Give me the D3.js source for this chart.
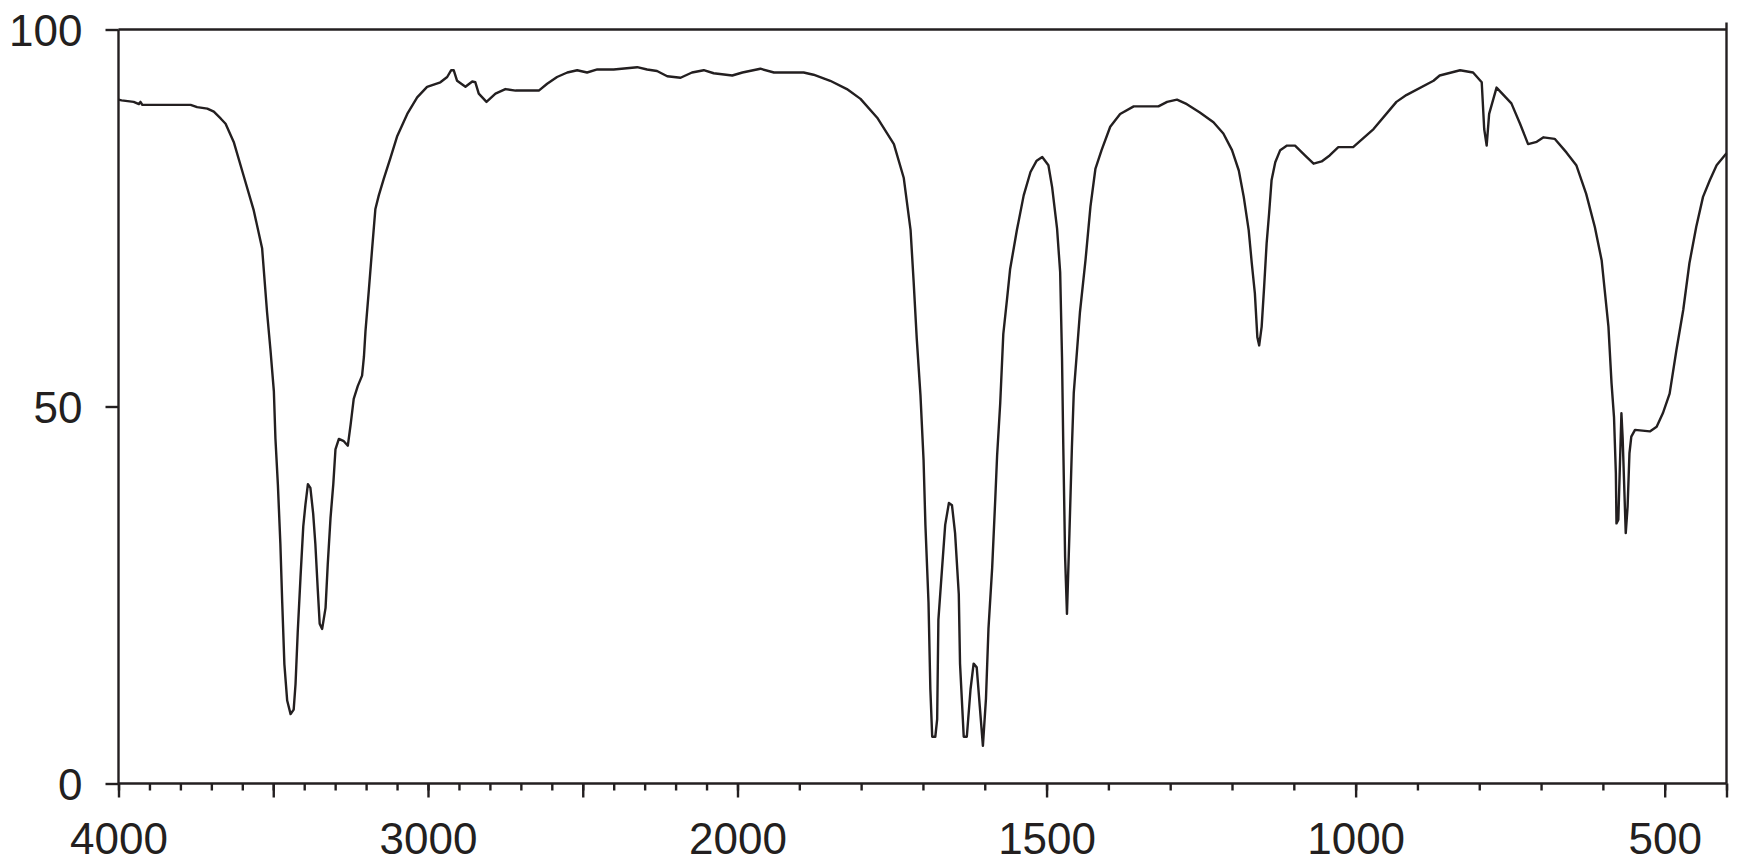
<!DOCTYPE html>
<html>
<head>
<meta charset="utf-8">
<script src="https://cdn.jsdelivr.net/npm/d3@7"></script>
<style>
  body { margin: 0; background: #fff; }
  svg { display: block; }
  .tick text { font-family: "Liberation Sans", Arial, sans-serif; font-size: 44px; fill: #231f20; }
  .trace { fill: none; stroke: #231f20; stroke-width: 2.4; stroke-linejoin: round; }
  .frame { stroke: #231f20; stroke-width: 2.4; }
</style>
</head>
<body>
<div id="chart"></div>
<script>
var width = 1747,
    height = 867;

// wavenumber (cm-1) and transmittance (%)
var wavenumbers = [
  4000,3990,3951,3934,3929,3923,3767,3746,3713,3692,
  3670,3654,3627,3595,3563,3536,3520,3509,3498,3493,
  3485,3477,3471,3464,3455,3444,3434,3428,3421,3412,
  3403,3396,3388,3380,3371,3364,3356,3350,3342,3331,
  3324,3315,3306,3299,3288,3272,3259,3250,3240,3227,
  3213,3207,3202,3191,3180,3170,3159,3143,3121,3100,
  3089,3067,3035,3003,2960,2938,2925,2917,2906,2879,
  2857,2847,2836,2811,2782,2750,2717,2642,2615,2583,
  2550,2518,2486,2453,2400,2324,2292,2260,2227,2184,
  2147,2109,2077,2017,1992,1963,1941,1893,1877,1850,
  1823,1801,1774,1747,1731,1720,1715,1710,1704,1699,
  1696,1691,1688,1685,1680,1677,1675,1669,1664,1658,
  1653,1648,1642,1640,1634,1629,1623,1618,1613,1608,
  1603,1598,1594,1588,1583,1580,1575,1570,1564,1559,
  1548,1537,1526,1516,1507,1497,1491,1483,1478,1475,
  1473,1470,1467,1463,1459,1456,1451,1446,1437,1429,
  1421,1411,1397,1381,1359,1319,1305,1289,1273,1252,
  1230,1214,1200,1189,1181,1173,1168,1163,1159,1156,
  1152,1148,1144,1140,1136,1130,1122,1111,1098,1082,
  1068,1055,1042,1028,1004,971,934,918,874,864,
  831,810,796,792,788,784,772,748,734,721,
  707,696,678,659,643,627,613,602,597,591,
  586,582,579,578,575,570,568,563,560,557,
  554,548,524,513,503,492,481,470,460,449,
  438,427,416,403,400
];
var transmittance = [
  90.7,90.6,90.4,90.1,90.4,90.0,90.0,89.7,89.5,89.1,
  88.2,87.5,85.0,80.5,76.0,71.0,62.5,57.5,52.0,45.8,
  39.6,31.8,24.0,15.8,11.0,9.2,9.8,13.2,20.0,27.3,
  34.1,37.0,39.7,39.2,35.8,31.8,25.6,21.2,20.5,23.3,
  29.0,35.2,39.7,44.3,45.7,45.4,44.8,47.6,51.0,52.7,
  54.1,56.6,60.0,65.5,71.2,76.2,78.0,80.2,83.0,85.8,
  86.8,88.8,91.0,92.4,93.0,93.7,94.6,94.6,93.2,92.4,
  93.1,93.0,91.5,90.4,91.5,92.1,91.9,91.9,92.8,93.7,
  94.3,94.6,94.3,94.7,94.7,95.0,94.7,94.5,93.8,93.6,
  94.3,94.6,94.2,93.9,94.3,94.8,94.3,94.3,94.0,93.2,
  92.1,90.8,88.3,84.8,80.3,73.4,66.5,59.0,51.5,42.9,
  34.3,24.0,12.5,6.2,6.2,8.5,21.7,28.6,34.3,37.2,
  36.9,33.2,25.1,15.9,6.2,6.2,12.5,15.9,15.4,10.2,
  5.0,11.3,20.5,28.6,37.7,43.5,50.4,59.6,64.2,68.2,
  73.4,78.0,81.1,82.6,83.1,82.0,79.1,73.6,67.8,56.5,
  45.0,30.0,22.5,33.2,44.6,51.8,57.1,62.5,69.4,76.5,
  81.5,84.0,87.1,88.8,89.8,89.8,90.4,90.7,90.1,89.0,
  87.7,86.2,84.0,81.3,77.8,73.4,69.0,65.0,59.2,58.1,
  60.6,65.9,71.6,75.6,80.0,82.4,84.0,84.6,84.6,83.3,
  82.2,82.5,83.3,84.4,84.4,86.8,90.4,91.3,93.2,93.9,
  94.6,94.3,93.0,86.8,84.6,88.8,92.3,90.2,87.5,84.8,
  85.1,85.7,85.5,83.7,82.0,78.2,73.8,69.4,65.4,60.6,
  53.1,48.6,41.2,34.5,35.0,49.1,45.8,33.2,36.7,43.8,
  46.0,46.9,46.7,47.3,49.1,51.7,57.5,62.8,69.0,73.8,
  77.8,80.0,82.0,83.3,83.6
];

var xLabels = [4000, 3000, 2000, 1500, 1000, 500];
var yLabels = [0, 50, 100];

// 4000-2000 is drawn at half the scale of 2000-400
var x = d3.scaleLinear()
    .domain([4000, 2000, 400])
    .range([118.5, 737.5, 1726.5]);

var y = d3.scaleLinear()
    .domain([0, 100])
    .range([783.5, 29.5]);

var svg = d3.select("#chart").append("svg")
    .attr("width", width)
    .attr("height", height);

var minorTicks = d3.range(4000, 399, -100);
var majorTicks = minorTicks.filter(function (d) { return d % 500 === 0 || d === 400; });

// minor ticks
svg.append("g")
    .attr("transform", "translate(0," + y(0) + ")")
    .call(d3.axisBottom(x).tickValues(minorTicks).tickSize(7).tickFormat(""))
    .call(function (g) { g.select(".domain").remove(); });

// major ticks with labels
svg.append("g")
    .attr("transform", "translate(0," + y(0) + ")")
    .call(d3.axisBottom(x).tickValues(majorTicks).tickSize(14).tickPadding(25)
        .tickFormat(function (d) { return xLabels.indexOf(d) >= 0 ? d : ""; }))
    .call(function (g) { g.select(".domain").remove(); });

svg.selectAll(".tick line")
    .attr("stroke", "#231f20")
    .attr("stroke-width", 2.4);

var yAxis = svg.append("g")
    .attr("transform", "translate(" + x(4000) + ",0)")
    .call(d3.axisLeft(y).tickValues(yLabels).tickSize(13).tickPadding(23))
    .call(function (g) { g.select(".domain").remove(); });

yAxis.selectAll(".tick line")
    .attr("stroke", "#231f20")
    .attr("stroke-width", 2.4);
yAxis.selectAll(".tick text")
    .attr("dy", "0.36em");

// frame
svg.append("line").attr("class", "frame")
    .attr("x1", x(4000)).attr("x2", x(4000)).attr("y1", y(100)).attr("y2", y(0));
svg.append("line").attr("class", "frame")
    .attr("x1", x(4000)).attr("x2", x(400)).attr("y1", y(0)).attr("y2", y(0));
svg.append("line").attr("class", "frame")
    .attr("x1", x(4000)).attr("x2", x(400)).attr("y1", y(100)).attr("y2", y(100));
svg.append("line").attr("class", "frame")
    .attr("x1", x(400)).attr("x2", x(400)).attr("y1", y(100) - 7).attr("y2", y(0));

var points = wavenumbers.map(function (d, i) { return [d, transmittance[i]]; });

var line = d3.line()
    .x(function (d) { return x(d[0]); })
    .y(function (d) { return y(d[1]); });

svg.append("path")
    .datum(points)
    .attr("class", "trace")
    .attr("d", line);
</script>
</body>
</html>
